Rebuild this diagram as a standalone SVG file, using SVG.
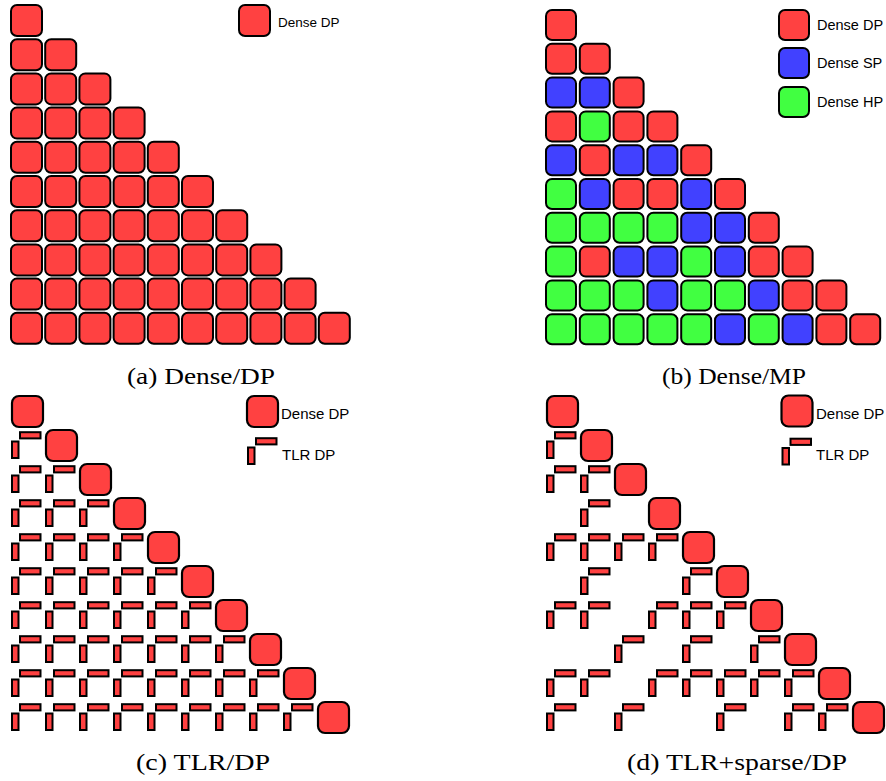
<svg xmlns="http://www.w3.org/2000/svg" xmlns:xlink="http://www.w3.org/1999/xlink" width="886" height="781" viewBox="0 0 886 781">
<style>
.t{stroke:#000;stroke-width:2;rx:6;ry:6}
.d{stroke:#000;stroke-width:2.2;rx:7;ry:7}
.R{fill:#ff4141}
.B{fill:#4141ff}
.G{fill:#41ff41}
.bar{fill:#ff4141;stroke:#000;stroke-width:2}
.lg{font-family:"Liberation Sans",Arial,sans-serif;fill:#000}
.cap{font-family:"Liberation Serif","Times New Roman",serif;font-size:24px;fill:#000;text-anchor:middle}
</style>
<defs>
<g id="tlr">
<rect class="bar" x="1" y="12.5" width="6.5" height="16.5"/>
<rect class="bar" x="9" y="3.2" width="20.5" height="6.2"/>
</g>
</defs>
<g id="connectors"/>
<g id="panel-a">
<g id="a-r0"><rect class="t R" x="11" y="5" width="31" height="31"/></g>
<g id="a-r1"><rect class="t R" x="11" y="39.2" width="31" height="31"/><rect class="t R" x="45.2" y="39.2" width="31" height="31"/></g>
<g id="a-r2"><rect class="t R" x="11" y="73.4" width="31" height="31"/><rect class="t R" x="45.2" y="73.4" width="31" height="31"/><rect class="t R" x="79.4" y="73.4" width="31" height="31"/></g>
<g id="a-r3"><rect class="t R" x="11" y="107.6" width="31" height="31"/><rect class="t R" x="45.2" y="107.6" width="31" height="31"/><rect class="t R" x="79.4" y="107.6" width="31" height="31"/><rect class="t R" x="113.6" y="107.6" width="31" height="31"/></g>
<g id="a-r4"><rect class="t R" x="11" y="141.8" width="31" height="31"/><rect class="t R" x="45.2" y="141.8" width="31" height="31"/><rect class="t R" x="79.4" y="141.8" width="31" height="31"/><rect class="t R" x="113.6" y="141.8" width="31" height="31"/><rect class="t R" x="147.8" y="141.8" width="31" height="31"/></g>
<g id="a-r5"><rect class="t R" x="11" y="176" width="31" height="31"/><rect class="t R" x="45.2" y="176" width="31" height="31"/><rect class="t R" x="79.4" y="176" width="31" height="31"/><rect class="t R" x="113.6" y="176" width="31" height="31"/><rect class="t R" x="147.8" y="176" width="31" height="31"/><rect class="t R" x="182" y="176" width="31" height="31"/></g>
<g id="a-r6"><rect class="t R" x="11" y="210.2" width="31" height="31"/><rect class="t R" x="45.2" y="210.2" width="31" height="31"/><rect class="t R" x="79.4" y="210.2" width="31" height="31"/><rect class="t R" x="113.6" y="210.2" width="31" height="31"/><rect class="t R" x="147.8" y="210.2" width="31" height="31"/><rect class="t R" x="182" y="210.2" width="31" height="31"/><rect class="t R" x="216.2" y="210.2" width="31" height="31"/></g>
<g id="a-r7"><rect class="t R" x="11" y="244.4" width="31" height="31"/><rect class="t R" x="45.2" y="244.4" width="31" height="31"/><rect class="t R" x="79.4" y="244.4" width="31" height="31"/><rect class="t R" x="113.6" y="244.4" width="31" height="31"/><rect class="t R" x="147.8" y="244.4" width="31" height="31"/><rect class="t R" x="182" y="244.4" width="31" height="31"/><rect class="t R" x="216.2" y="244.4" width="31" height="31"/><rect class="t R" x="250.4" y="244.4" width="31" height="31"/></g>
<g id="a-r8"><rect class="t R" x="11" y="278.6" width="31" height="31"/><rect class="t R" x="45.2" y="278.6" width="31" height="31"/><rect class="t R" x="79.4" y="278.6" width="31" height="31"/><rect class="t R" x="113.6" y="278.6" width="31" height="31"/><rect class="t R" x="147.8" y="278.6" width="31" height="31"/><rect class="t R" x="182" y="278.6" width="31" height="31"/><rect class="t R" x="216.2" y="278.6" width="31" height="31"/><rect class="t R" x="250.4" y="278.6" width="31" height="31"/><rect class="t R" x="284.6" y="278.6" width="31" height="31"/></g>
<g id="a-r9"><rect class="t R" x="11" y="312.8" width="31" height="31"/><rect class="t R" x="45.2" y="312.8" width="31" height="31"/><rect class="t R" x="79.4" y="312.8" width="31" height="31"/><rect class="t R" x="113.6" y="312.8" width="31" height="31"/><rect class="t R" x="147.8" y="312.8" width="31" height="31"/><rect class="t R" x="182" y="312.8" width="31" height="31"/><rect class="t R" x="216.2" y="312.8" width="31" height="31"/><rect class="t R" x="250.4" y="312.8" width="31" height="31"/><rect class="t R" x="284.6" y="312.8" width="31" height="31"/><rect class="t R" x="318.8" y="312.8" width="31" height="31"/></g>
<g id="a-legend"><rect class="t R" x="239" y="5" width="31" height="31"/><text class="lg" x="278" y="27" font-size="13.5">Dense DP</text></g>
<text class="cap" x="201" y="384" textLength="148" lengthAdjust="spacingAndGlyphs">(a) Dense/DP</text>
</g>
<g id="panel-b">
<g id="b-r0"><rect class="t R" x="546" y="10" width="30" height="30"/></g>
<g id="b-r1"><rect class="t R" x="546" y="43.8" width="30" height="30"/><rect class="t R" x="579.8" y="43.8" width="30" height="30"/></g>
<g id="b-r2"><rect class="t B" x="546" y="77.6" width="30" height="30"/><rect class="t B" x="579.8" y="77.6" width="30" height="30"/><rect class="t R" x="613.6" y="77.6" width="30" height="30"/></g>
<g id="b-r3"><rect class="t R" x="546" y="111.4" width="30" height="30"/><rect class="t G" x="579.8" y="111.4" width="30" height="30"/><rect class="t R" x="613.6" y="111.4" width="30" height="30"/><rect class="t R" x="647.4" y="111.4" width="30" height="30"/></g>
<g id="b-r4"><rect class="t B" x="546" y="145.2" width="30" height="30"/><rect class="t R" x="579.8" y="145.2" width="30" height="30"/><rect class="t B" x="613.6" y="145.2" width="30" height="30"/><rect class="t B" x="647.4" y="145.2" width="30" height="30"/><rect class="t R" x="681.2" y="145.2" width="30" height="30"/></g>
<g id="b-r5"><rect class="t G" x="546" y="179" width="30" height="30"/><rect class="t B" x="579.8" y="179" width="30" height="30"/><rect class="t R" x="613.6" y="179" width="30" height="30"/><rect class="t R" x="647.4" y="179" width="30" height="30"/><rect class="t B" x="681.2" y="179" width="30" height="30"/><rect class="t R" x="715" y="179" width="30" height="30"/></g>
<g id="b-r6"><rect class="t G" x="546" y="212.8" width="30" height="30"/><rect class="t G" x="579.8" y="212.8" width="30" height="30"/><rect class="t G" x="613.6" y="212.8" width="30" height="30"/><rect class="t G" x="647.4" y="212.8" width="30" height="30"/><rect class="t B" x="681.2" y="212.8" width="30" height="30"/><rect class="t B" x="715" y="212.8" width="30" height="30"/><rect class="t R" x="748.8" y="212.8" width="30" height="30"/></g>
<g id="b-r7"><rect class="t G" x="546" y="246.6" width="30" height="30"/><rect class="t R" x="579.8" y="246.6" width="30" height="30"/><rect class="t B" x="613.6" y="246.6" width="30" height="30"/><rect class="t B" x="647.4" y="246.6" width="30" height="30"/><rect class="t G" x="681.2" y="246.6" width="30" height="30"/><rect class="t B" x="715" y="246.6" width="30" height="30"/><rect class="t R" x="748.8" y="246.6" width="30" height="30"/><rect class="t R" x="782.6" y="246.6" width="30" height="30"/></g>
<g id="b-r8"><rect class="t G" x="546" y="280.4" width="30" height="30"/><rect class="t G" x="579.8" y="280.4" width="30" height="30"/><rect class="t G" x="613.6" y="280.4" width="30" height="30"/><rect class="t B" x="647.4" y="280.4" width="30" height="30"/><rect class="t G" x="681.2" y="280.4" width="30" height="30"/><rect class="t G" x="715" y="280.4" width="30" height="30"/><rect class="t B" x="748.8" y="280.4" width="30" height="30"/><rect class="t R" x="782.6" y="280.4" width="30" height="30"/><rect class="t R" x="816.4" y="280.4" width="30" height="30"/></g>
<g id="b-r9"><rect class="t G" x="546" y="314.2" width="30" height="30"/><rect class="t G" x="579.8" y="314.2" width="30" height="30"/><rect class="t G" x="613.6" y="314.2" width="30" height="30"/><rect class="t G" x="647.4" y="314.2" width="30" height="30"/><rect class="t G" x="681.2" y="314.2" width="30" height="30"/><rect class="t B" x="715" y="314.2" width="30" height="30"/><rect class="t G" x="748.8" y="314.2" width="30" height="30"/><rect class="t B" x="782.6" y="314.2" width="30" height="30"/><rect class="t R" x="816.4" y="314.2" width="30" height="30"/><rect class="t R" x="850.2" y="314.2" width="30" height="30"/></g>
<g id="b-legend">
<rect class="t R" x="779" y="10" width="30" height="30"/><text class="lg" x="817" y="30" font-size="14.5">Dense DP</text>
<rect class="t B" x="779" y="48" width="30" height="30"/><text class="lg" x="817" y="68" font-size="14.5">Dense SP</text>
<rect class="t G" x="779" y="87" width="30" height="30"/><text class="lg" x="817" y="107" font-size="14.5">Dense HP</text>
</g>
<text class="cap" x="734" y="384" textLength="144" lengthAdjust="spacingAndGlyphs">(b) Dense/MP</text>
</g>
<g id="panel-c">
<g id="c-diag">
<rect class="d R" x="12" y="396" width="31" height="31"/><rect class="d R" x="46" y="430" width="31" height="31"/><rect class="d R" x="80" y="464" width="31" height="31"/><rect class="d R" x="114" y="498" width="31" height="31"/><rect class="d R" x="148" y="532" width="31" height="31"/><rect class="d R" x="182" y="566" width="31" height="31"/><rect class="d R" x="216" y="600" width="31" height="31"/><rect class="d R" x="250" y="634" width="31" height="31"/><rect class="d R" x="284" y="668" width="31" height="31"/><rect class="d R" x="318" y="702" width="31" height="31"/>
</g>
<g id="c-tlr">
<use href="#tlr" x="11" y="429"/>
<use href="#tlr" x="11" y="463"/><use href="#tlr" x="45" y="463"/>
<use href="#tlr" x="11" y="497"/><use href="#tlr" x="45" y="497"/><use href="#tlr" x="79" y="497"/>
<use href="#tlr" x="11" y="531"/><use href="#tlr" x="45" y="531"/><use href="#tlr" x="79" y="531"/><use href="#tlr" x="113" y="531"/>
<use href="#tlr" x="11" y="565"/><use href="#tlr" x="45" y="565"/><use href="#tlr" x="79" y="565"/><use href="#tlr" x="113" y="565"/><use href="#tlr" x="147" y="565"/>
<use href="#tlr" x="11" y="599"/><use href="#tlr" x="45" y="599"/><use href="#tlr" x="79" y="599"/><use href="#tlr" x="113" y="599"/><use href="#tlr" x="147" y="599"/><use href="#tlr" x="181" y="599"/>
<use href="#tlr" x="11" y="633"/><use href="#tlr" x="45" y="633"/><use href="#tlr" x="79" y="633"/><use href="#tlr" x="113" y="633"/><use href="#tlr" x="147" y="633"/><use href="#tlr" x="181" y="633"/><use href="#tlr" x="215" y="633"/>
<use href="#tlr" x="11" y="667"/><use href="#tlr" x="45" y="667"/><use href="#tlr" x="79" y="667"/><use href="#tlr" x="113" y="667"/><use href="#tlr" x="147" y="667"/><use href="#tlr" x="181" y="667"/><use href="#tlr" x="215" y="667"/><use href="#tlr" x="249" y="667"/>
<use href="#tlr" x="11" y="701"/><use href="#tlr" x="45" y="701"/><use href="#tlr" x="79" y="701"/><use href="#tlr" x="113" y="701"/><use href="#tlr" x="147" y="701"/><use href="#tlr" x="181" y="701"/><use href="#tlr" x="215" y="701"/><use href="#tlr" x="249" y="701"/><use href="#tlr" x="283" y="701"/>
</g>
<g id="c-legend">
<rect class="d R" x="247" y="396" width="31" height="31"/><text class="lg" x="281" y="419" font-size="15">Dense DP</text>
<use href="#tlr" x="247" y="435"/><text class="lg" x="282" y="460" font-size="15">TLR DP</text>
</g>
<text class="cap" x="203" y="770" textLength="134" lengthAdjust="spacingAndGlyphs">(c) TLR/DP</text>
</g>
<g id="panel-d">
<g id="d-diag">
<rect class="d R" x="547" y="396" width="31" height="31"/><rect class="d R" x="581" y="430" width="31" height="31"/><rect class="d R" x="615" y="464" width="31" height="31"/><rect class="d R" x="649" y="498" width="31" height="31"/><rect class="d R" x="683" y="532" width="31" height="31"/><rect class="d R" x="717" y="566" width="31" height="31"/><rect class="d R" x="751" y="600" width="31" height="31"/><rect class="d R" x="785" y="634" width="31" height="31"/><rect class="d R" x="819" y="668" width="31" height="31"/><rect class="d R" x="853" y="702" width="31" height="31"/>
</g>
<g id="d-tlr">
<use href="#tlr" x="546" y="429"/>
<use href="#tlr" x="546" y="463"/><use href="#tlr" x="580" y="463"/>
<use href="#tlr" x="580" y="497"/>
<use href="#tlr" x="546" y="531"/><use href="#tlr" x="580" y="531"/><use href="#tlr" x="614" y="531"/><use href="#tlr" x="648" y="531"/>
<use href="#tlr" x="580" y="565"/><use href="#tlr" x="682" y="565"/>
<use href="#tlr" x="546" y="599"/><use href="#tlr" x="580" y="599"/><use href="#tlr" x="648" y="599"/><use href="#tlr" x="682" y="599"/><use href="#tlr" x="716" y="599"/>
<use href="#tlr" x="614" y="633"/><use href="#tlr" x="682" y="633"/><use href="#tlr" x="750" y="633"/>
<use href="#tlr" x="546" y="667"/><use href="#tlr" x="580" y="667"/><use href="#tlr" x="648" y="667"/><use href="#tlr" x="682" y="667"/><use href="#tlr" x="716" y="667"/><use href="#tlr" x="750" y="667"/><use href="#tlr" x="784" y="667"/>
<use href="#tlr" x="546" y="701"/><use href="#tlr" x="614" y="701"/><use href="#tlr" x="716" y="701"/><use href="#tlr" x="784" y="701"/><use href="#tlr" x="818" y="701"/>
</g>
<g id="d-legend">
<rect class="d R" x="781.5" y="395.5" width="31" height="31"/><text class="lg" x="816" y="419" font-size="15">Dense DP</text>
<use href="#tlr" x="781.5" y="435.5"/><text class="lg" x="816" y="460" font-size="15">TLR DP</text>
</g>
<text class="cap" x="737" y="770" textLength="220" lengthAdjust="spacingAndGlyphs">(d) TLR+sparse/DP</text>
</g>
</svg>
